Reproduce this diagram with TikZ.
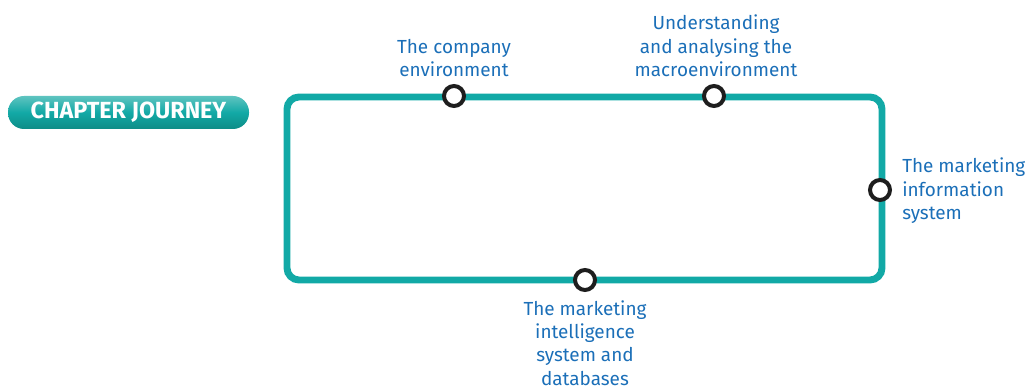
\documentclass[tikz,border=0pt]{standalone}
\usepackage{fontspec}
\setmainfont{Fira Sans}
\definecolor{teal1}{HTML}{12A9A6}
\definecolor{tealdark}{HTML}{0E8C86}
\definecolor{teallight}{HTML}{7FCFCB}
\definecolor{blue1}{HTML}{1B6FB8}
\definecolor{ring}{HTML}{1E1E1E}
\tikzset{
  track/.style={draw=teal1, line width=5.2pt, rounded corners=9pt},
  stop/.style={circle, draw=ring, fill=white, line width=3pt, minimum size=15pt, inner sep=0pt},
  lbl/.style={text=blue1, font=\fontsize{14.2}{17.6}\selectfont, inner sep=0pt},
}
\begin{document}
\begin{tikzpicture}[x=0.75pt,y=-0.75pt]
\useasboundingbox (0,0) rectangle (1029,391);
% badge
\node[draw=none, rounded corners=12pt, minimum width=180.75pt, minimum height=24.75pt,
  top color=teallight!70!teal1, bottom color=tealdark, middle color=teal1,
  inner sep=0pt] (badge) at (128.5,112.5) {};
\node[text=white, font=\fontsize{17.5}{18}\selectfont\bfseries] (badgetext) at (badge.center) {CHAPTER JOURNEY};
% track
\draw[track] (287,97) rectangle (882,280);
% stops
\node[stop] (s1) at (454,96) {};
\node[stop] (s2) at (714,96) {};
\node[stop] (s3) at (880,190) {};
\node[stop] (s4) at (585,280) {};
% labels
\node[lbl, align=center, anchor=south] (l1) at (454,77) {The company\\environment};
\node[lbl, align=center, anchor=south] (l2) at (716,77) {Understanding\\and analysing the\\macroenvironment};
\node[lbl, align=left, anchor=west] (l3) at (902,191) {The marketing\\information\\system};
\node[lbl, align=center, anchor=north] (l4) at (585,300) {The marketing\\intelligence\\system and\\databases};
\end{tikzpicture}
\end{document}
